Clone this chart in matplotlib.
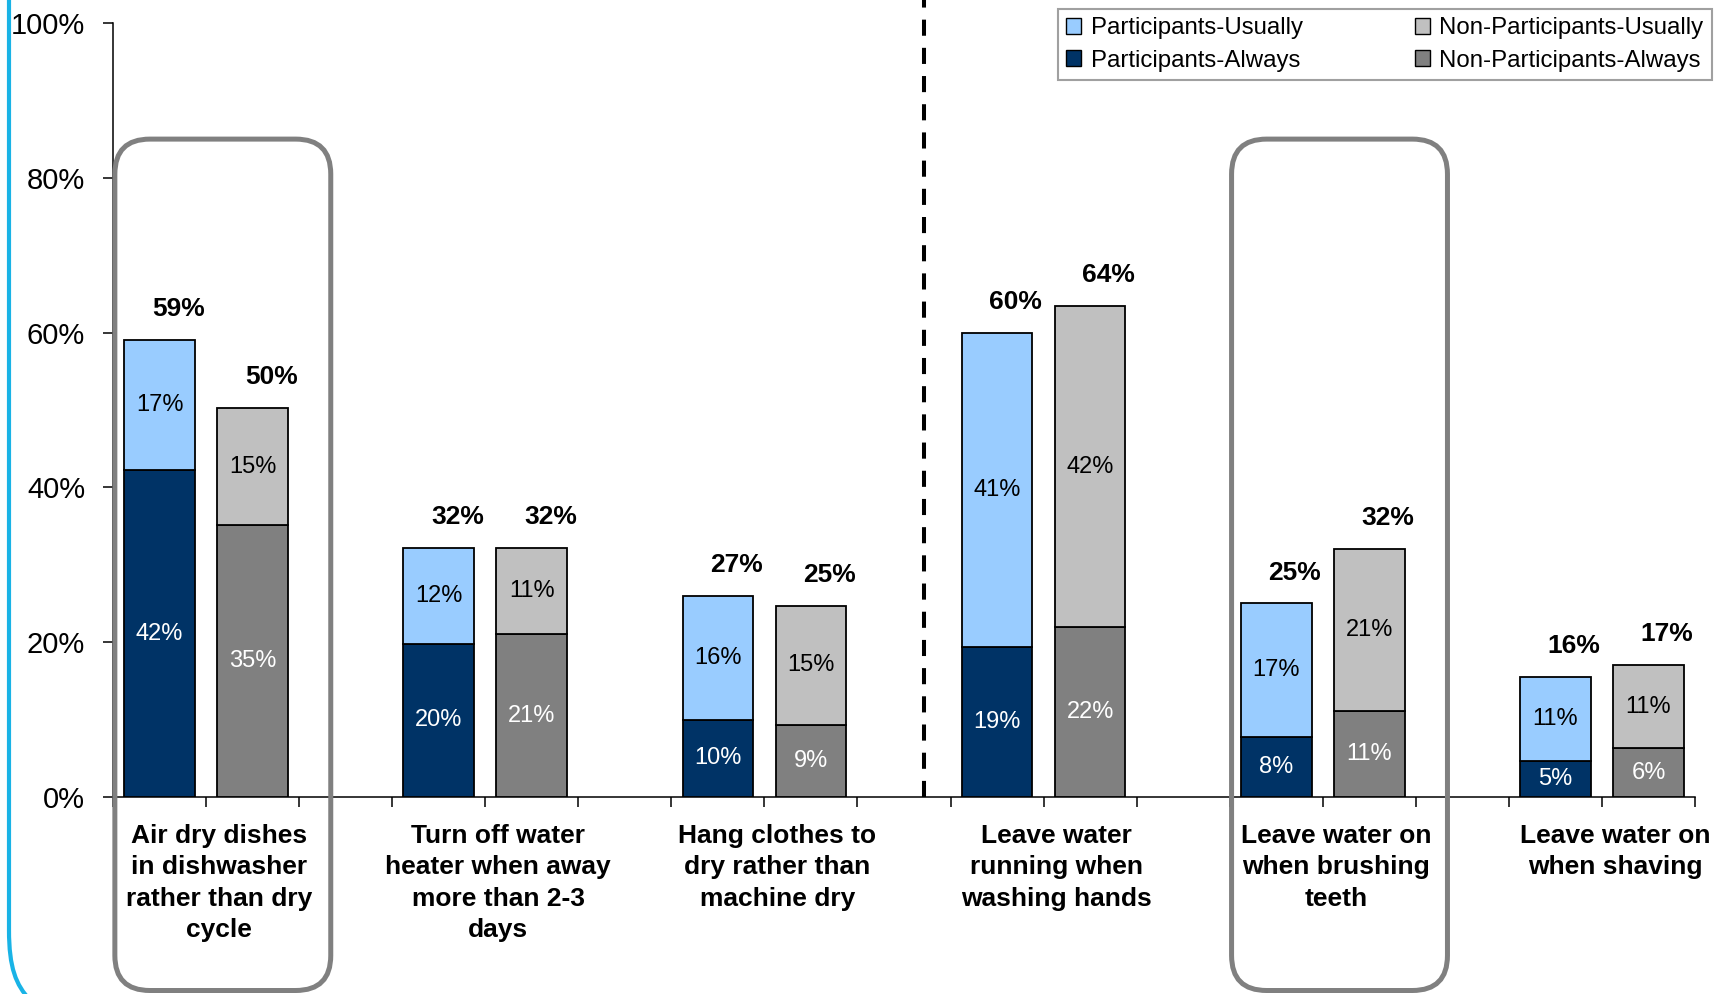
import matplotlib.pyplot as plt
from matplotlib.patches import FancyBboxPatch, PathPatch, Patch
from matplotlib.path import Path
from matplotlib.transforms import IdentityTransform

plt.rcParams['font.family'] = ['Liberation Sans', 'DejaVu Sans']

categories = [
    "Air dry dishes\nin dishwasher\nrather than dry\ncycle",
    "Turn off water\nheater when away\nmore than 2-3\ndays",
    "Hang clothes to\ndry rather than\nmachine dry",
    "Leave water\nrunning when\nwashing hands",
    "Leave water on\nwhen brushing\nteeth",
    "Leave water on\nwhen shaving",
]
part_always = [42.2, 19.8, 10.0, 19.4, 7.8, 4.6]
part_usually = [16.8, 12.4, 16.0, 40.6, 17.2, 10.9]
nonpart_always = [35.2, 21.0, 9.3, 21.9, 11.1, 6.3]
nonpart_usually = [15.0, 11.2, 15.4, 41.6, 20.9, 10.7]
part_total_labels = ["59%", "32%", "27%", "60%", "25%", "16%"]
nonpart_total_labels = ["50%", "32%", "25%", "64%", "32%", "17%"]
highlighted = [0, 4]
y_ticks = [0, 20, 40, 60, 80, 100]

c_pu, c_pa = "#99ccff", "#003366"
c_nu, c_na = "#c0c0c0", "#808080"

W, H = 1723, 994
fig = plt.figure(figsize=(W / 100, H / 100), dpi=100)
ax = fig.add_axes([113 / W, (H - 797) / H, (1695 - 113) / W, (797 - 23) / H])

# each group takes 3 slots: participants, non-participants, gap
p_x = [3 * g + 0.5 for g in range(len(categories))]
n_x = [3 * g + 1.5 for g in range(len(categories))]
bw = 0.76
kw = dict(width=bw, edgecolor="black", linewidth=1.3, zorder=3)

ax.bar(p_x, part_always, color=c_pa, **kw)
ax.bar(p_x, part_usually, bottom=part_always, color=c_pu, **kw)
ax.bar(n_x, nonpart_always, color=c_na, **kw)
ax.bar(n_x, nonpart_usually, bottom=nonpart_always, color=c_nu, **kw)

for i in range(len(categories)):
    for x, a, u, tot in [(p_x[i], part_always[i], part_usually[i], part_total_labels[i]),
                         (n_x[i], nonpart_always[i], nonpart_usually[i], nonpart_total_labels[i])]:
        ax.text(x, a / 2, f"{a:.0f}%", ha="center", va="center", color="white", fontsize=17, zorder=4)
        ax.text(x, a + u / 2, f"{u:.0f}%", ha="center", va="center", color="black", fontsize=17, zorder=4)
        ax.text(x + 0.2, a + u + 4.0, tot, ha="center", va="center", fontsize=19,
                fontweight="bold", zorder=4)
    ax.text(3 * i + 1.14, -0.035, categories[i], transform=ax.get_xaxis_transform(),
            ha="center", va="top", fontsize=19, fontweight="bold", linespacing=1.38)

ax.set_xlim(0, 17)
ax.set_ylim(0, 100)
ax.set_xticks(range(18))
ax.set_xticklabels([])
ax.set_yticks(y_ticks)
ax.set_yticklabels([f"{v}%" for v in y_ticks])
ax.tick_params(axis="both", direction="out", length=7, width=1.1, color="black")
ax.tick_params(axis="y", labelsize=21, pad=13)
for s in ["top", "right"]:
    ax.spines[s].set_visible(False)
for s in ["left", "bottom"]:
    ax.spines[s].set_linewidth(1.1)

# dashed separator between the two sets of behaviours
ax.axvline(8.71, ymin=0, ymax=1.04, color="black", linewidth=2.9, dashes=(4, 3),
           clip_on=False, zorder=2)

# rounded boxes around highlighted groups
for g in highlighted:
    x0, y0 = ax.transData.transform((3 * g + 0.02, -25))
    x1, y1 = ax.transData.transform((3 * g + 2.34, 85))
    box = FancyBboxPatch((x0, y0), x1 - x0, y1 - y0, boxstyle="round,pad=0,rounding_size=35",
                         transform=IdentityTransform(), fill=False, edgecolor="#808080",
                         linewidth=3.6, zorder=5)
    fig.add_artist(box)

# cyan slide border on the left
verts = [(9, -5), (9, 930), (9, 968), (16, 985), (30, 1000)]
verts = [(x / W, 1 - y / H) for x, y in verts]
codes = [Path.MOVETO, Path.LINETO, Path.CURVE4, Path.CURVE4, Path.CURVE4]
fig.add_artist(PathPatch(Path(verts, codes), transform=fig.transFigure, fill=False,
                         edgecolor="#19b3e6", linewidth=3))

handles = [Patch(facecolor=c_pu, edgecolor="black", label="Participants-Usually"),
           Patch(facecolor=c_pa, edgecolor="black", label="Participants-Always"),
           Patch(facecolor=c_nu, edgecolor="black", label="Non-Participants-Usually"),
           Patch(facecolor=c_na, edgecolor="black", label="Non-Participants-Always")]
leg = fig.legend(handles=handles, ncol=2, loc="upper right",
                 bbox_to_anchor=(1712 / W, 1 - 9 / H), bbox_transform=fig.transFigure,
                 borderaxespad=0, fontsize=17.3, handlelength=0.6, handleheight=0.6,
                 handletextpad=0.4, columnspacing=4.7, labelspacing=0.42, borderpad=0.35,
                 fancybox=False, framealpha=1, edgecolor="#a0a0a0")
leg.get_frame().set_linewidth(1.5)

fig.savefig("out.png", dpi=100)
